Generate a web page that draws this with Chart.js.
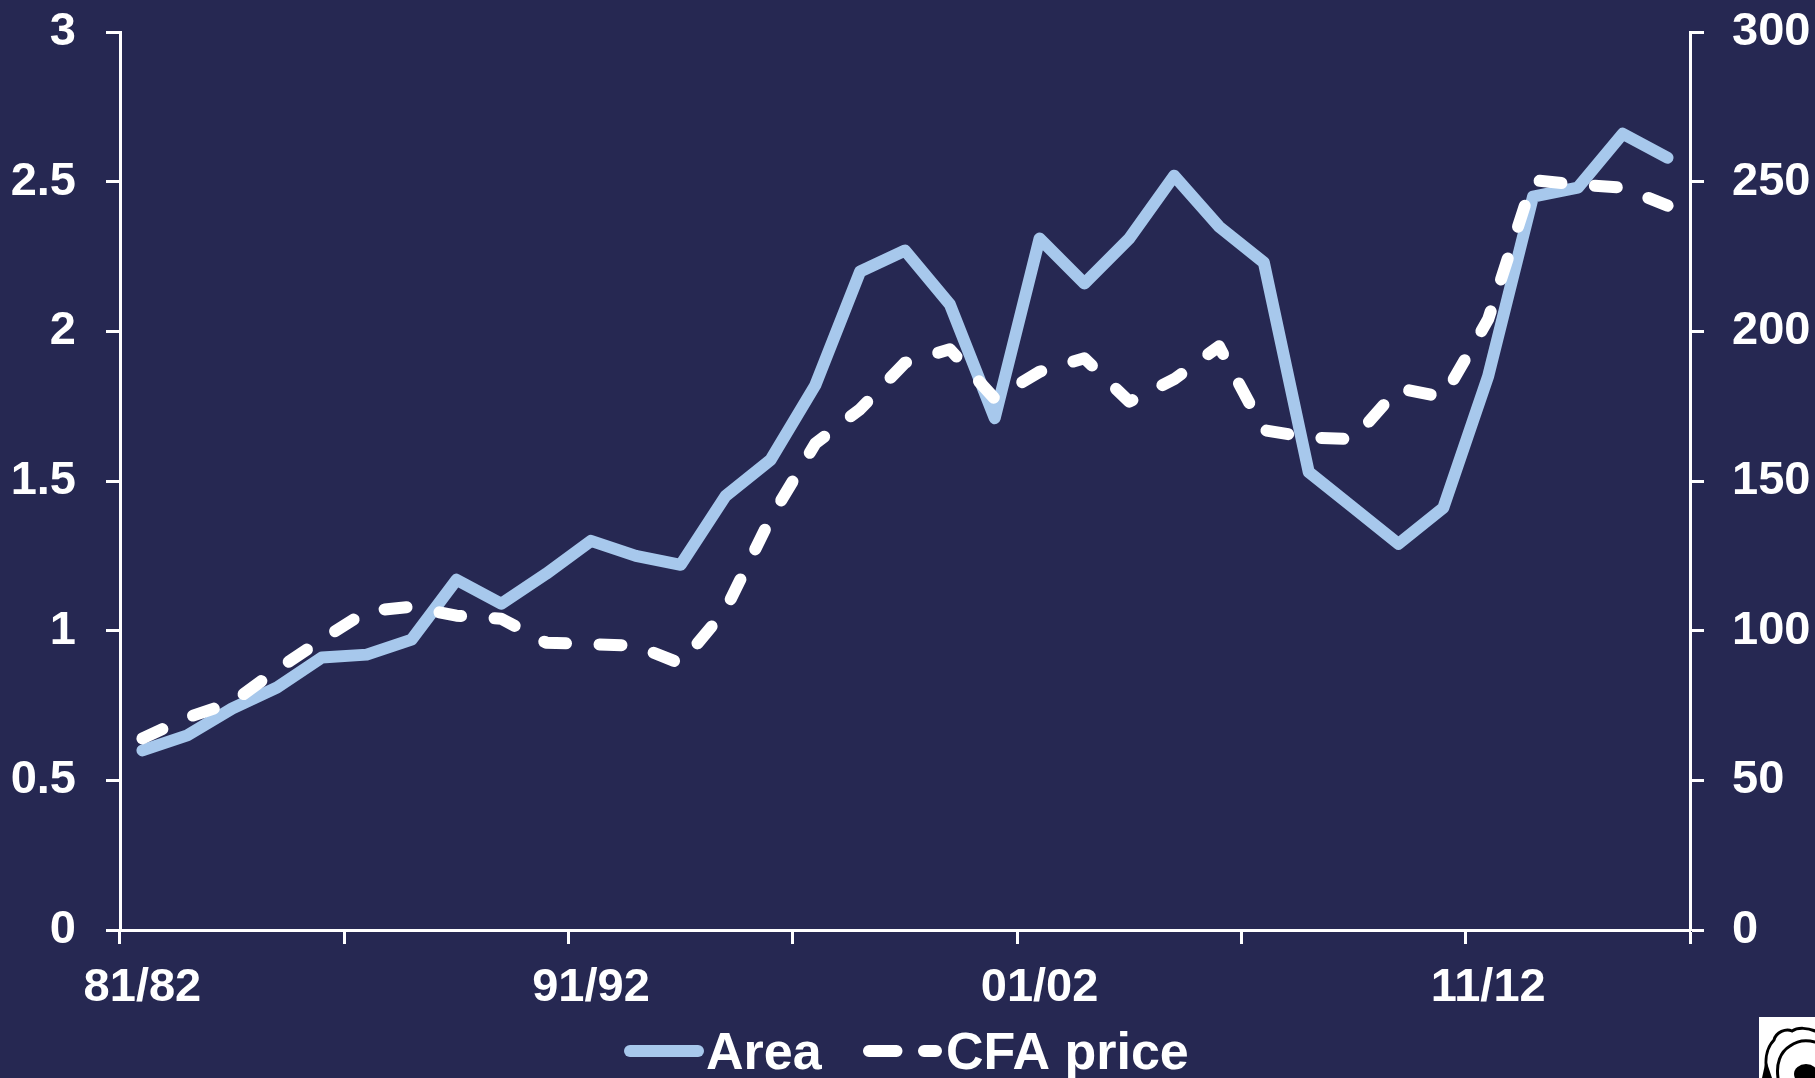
<!DOCTYPE html>
<html>
<head>
<meta charset="utf-8">
<script src="https://cdn.jsdelivr.net/npm/chart.js@4"></script>
<style>
  html, body { margin: 0; padding: 0; background: #262852; overflow: hidden; }
  #wrap { width: 1815px; height: 1078px; position: relative; }
</style>
</head>
<body>
<div id="wrap"><canvas id="c"></canvas></div>
<script>
// ---------------- DATA ----------------
const categories = [
  '81/82','82/83','83/84','84/85','85/86','86/87','87/88','88/89','89/90','90/91',
  '91/92','92/93','93/94','94/95','95/96','96/97','97/98','98/99','99/00','00/01',
  '01/02','02/03','03/04','04/05','05/06','06/07','07/08','08/09','09/10','10/11',
  '11/12','12/13','13/14','14/15','15/16'
];
const shownCategoryLabels = ['81/82', '91/92', '01/02', '11/12'];

const areaValues = [
  0.60, 0.65, 0.74, 0.81, 0.91, 0.92, 0.97, 1.17, 1.09, 1.19,
  1.30, 1.25, 1.22, 1.45, 1.57, 1.82, 2.20, 2.27, 2.09, 1.71,
  2.31, 2.16, 2.31, 2.52, 2.35, 2.23, 1.53, 1.41, 1.29, 1.41,
  1.85, 2.45, 2.48, 2.66, 2.58
];
const cfaPriceValues = [
  64, 71, 76, 87, 97, 106.5, 108, 105, 104, 96,
  95.5, 95, 89, 107, 137.5, 162.5, 174, 189.5, 194, 177.5,
  186.5, 191, 176.5, 184, 195, 167, 164.5, 164, 181, 178,
  204, 250.5, 249, 248, 242
];

const leftTickValues = [0, 0.5, 1, 1.5, 2, 2.5, 3];
const rightTickValues = [0, 50, 100, 150, 200, 250, 300];

const seriesNames = ['Area', 'CFA price'];

// ---------------- STYLE ----------------
const BG = '#262852';
const WHITE = '#ffffff';
const AREA_COLOR = '#a7c8ec';
const FONT_FAMILY = "'Liberation Sans', Arial, Helvetica, sans-serif";
const tickFont = { family: FONT_FAMILY, size: 47, weight: 'bold' };

const bgPlugin = {
  id: 'bg',
  beforeDraw(chart) {
    const ctx = chart.ctx;
    ctx.save();
    ctx.fillStyle = BG;
    ctx.fillRect(0, 0, chart.width, chart.height);
    ctx.restore();
  }
};

const legendPlugin = {
  id: 'customLegend',
  afterDraw(chart) {
    const ctx = chart.ctx;
    const ds = chart.data.datasets;
    const lineY = 1051;
    const items = [
      { ds: ds[0], x1: 630, x2: 698, textX: 706, dash: [] },
      { ds: ds[1], x1: 869, x2: 936, textX: 946, dash: [27.5, 27.5] }
    ];
    ctx.save();
    items.forEach(it => {
      ctx.beginPath();
      ctx.strokeStyle = it.ds.borderColor;
      ctx.lineWidth = 12;
      ctx.lineCap = 'round';
      ctx.setLineDash(it.dash);
      ctx.moveTo(it.x1, lineY);
      ctx.lineTo(it.x2, lineY);
      ctx.stroke();
      ctx.setLineDash([]);
      ctx.fillStyle = WHITE;
      ctx.font = "bold 52px " + FONT_FAMILY;
      ctx.textAlign = 'left';
      ctx.textBaseline = 'alphabetic';
      ctx.fillText(it.ds.label, it.textX, 1069);
    });

    // small logo box in bottom-right corner
    ctx.fillStyle = '#ffffff';
    ctx.fillRect(1759, 1017, 56, 61);
    ctx.strokeStyle = '#000000';
    ctx.lineWidth = 3;
    ctx.lineCap = 'round';
    ctx.beginPath();
    ctx.moveTo(1768, 1078);
    ctx.bezierCurveTo(1764, 1062, 1766, 1048, 1774, 1040);
    ctx.bezierCurveTo(1776, 1032, 1786, 1028, 1792, 1031);
    ctx.bezierCurveTo(1798, 1027, 1808, 1028, 1815, 1031);
    ctx.stroke();
    ctx.beginPath();
    ctx.moveTo(1778, 1078);
    ctx.bezierCurveTo(1776, 1064, 1780, 1052, 1790, 1046);
    ctx.bezierCurveTo(1798, 1040, 1808, 1040, 1815, 1042);
    ctx.stroke();
    ctx.fillStyle = '#000000';
    ctx.beginPath();
    ctx.moveTo(1766, 1060);
    ctx.lineTo(1772, 1078);
    ctx.lineTo(1762, 1078);
    ctx.closePath();
    ctx.fill();
    ctx.beginPath();
    ctx.ellipse(1806, 1074, 12, 10, 0, 0, Math.PI * 2);
    ctx.fill();
    ctx.restore();
  }
};

const xTickColor = (c) => (c.index === undefined || c.index % 5 === 0) ? WHITE : 'rgba(0,0,0,0)';

function fixVerticalAxis(width) {
  return function (scale) {
    scale.width = width;
    scale.paddingTop = 0;
    scale.paddingBottom = 0;
  };
}

const chart = new Chart(document.getElementById('c'), {
  type: 'line',
  data: {
    labels: categories,
    datasets: [
      {
        label: seriesNames[0],
        data: areaValues,
        yAxisID: 'y',
        borderColor: AREA_COLOR,
        borderWidth: 12,
        borderJoinStyle: 'round',
        borderCapStyle: 'round',
        pointRadius: 0,
        tension: 0,
        fill: false,
        order: 2
      },
      {
        label: seriesNames[1],
        data: cfaPriceValues,
        yAxisID: 'y1',
        borderColor: WHITE,
        borderWidth: 12,
        borderDash: [22, 33.5],
        borderJoinStyle: 'round',
        borderCapStyle: 'round',
        pointRadius: 0,
        tension: 0,
        fill: false,
        order: 1
      }
    ]
  },
  options: {
    responsive: true,
    maintainAspectRatio: false,
    animation: false,
    devicePixelRatio: 1,
    layout: { padding: { top: 32, left: 0, right: 0, bottom: 68 } },
    plugins: {
      legend: { display: false },
      tooltip: { enabled: false }
    },
    scales: {
      x: {
        offset: true,
        grid: {
          offset: true,
          drawOnChartArea: false,
          drawTicks: true,
          tickLength: 14,
          tickWidth: 3,
          color: xTickColor,
          tickColor: xTickColor
        },
        border: { display: true, color: WHITE, width: 3 },
        ticks: {
          autoSkip: false,
          maxRotation: 0,
          minRotation: 0,
          padding: 16,
          color: WHITE,
          font: tickFont,
          callback: function (value) {
            const l = this.getLabelForValue(value);
            return shownCategoryLabels.includes(l) ? l : '';
          }
        },
        afterFit(scale) { scale.height = 80; scale.paddingLeft = 0; scale.paddingRight = 0; }
      },
      y: {
        position: 'left',
        min: leftTickValues[0],
        max: leftTickValues[leftTickValues.length - 1],
        afterBuildTicks(scale) { scale.ticks = leftTickValues.map(v => ({ value: v })); },
        grid: {
          drawOnChartArea: false,
          drawTicks: true,
          tickLength: 14,
          tickWidth: 3,
          color: WHITE,
          tickColor: WHITE
        },
        border: { display: true, color: WHITE, width: 3 },
        ticks: { padding: 30, color: WHITE, font: tickFont, callback: (v) => String(v) },
        afterFit: fixVerticalAxis(120)
      },
      y1: {
        position: 'right',
        min: rightTickValues[0],
        max: rightTickValues[rightTickValues.length - 1],
        afterBuildTicks(scale) { scale.ticks = rightTickValues.map(v => ({ value: v })); },
        grid: {
          drawOnChartArea: false,
          drawTicks: true,
          tickLength: 14,
          tickWidth: 3,
          color: WHITE,
          tickColor: WHITE
        },
        border: { display: true, color: WHITE, width: 3 },
        ticks: { padding: 28, color: WHITE, font: tickFont, callback: (v) => String(v) },
        afterFit: fixVerticalAxis(125)
      }
    }
  },
  plugins: [bgPlugin, legendPlugin]
});
</script>
</body>
</html>
